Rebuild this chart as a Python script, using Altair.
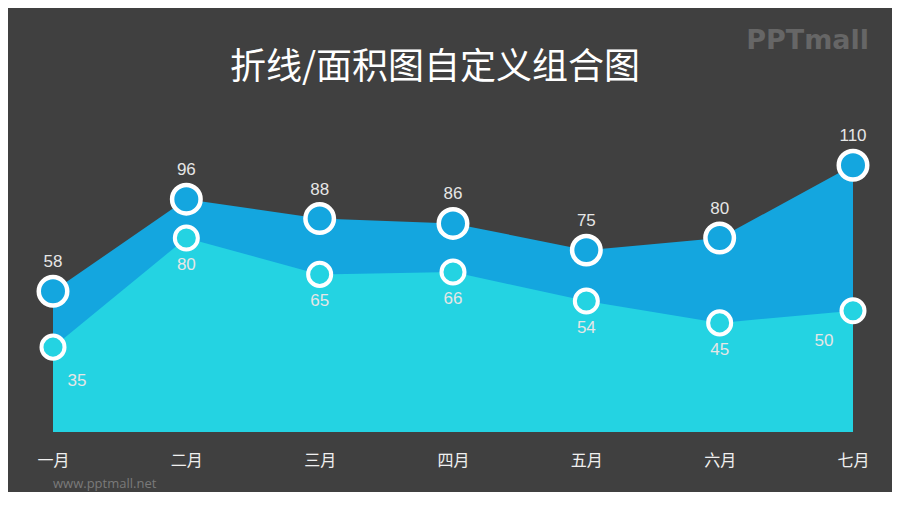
import pandas as pd
import altair as alt

# values
months = ["一月", "二月", "三月", "四月", "五月", "六月", "七月"]
upper = [58, 96, 88, 86, 75, 80, 110]
lower = [35, 80, 65, 66, 54, 45, 50]

df = pd.DataFrame({"month": months, "upper": upper, "lower": lower, "idx": range(len(months))})

BG = "#404040"
BLUE = "#14a6df"
CYAN = "#24d3e2"
NUM_FONT = "Liberation Sans"
CJK_FONT = "Noto Sans CJK SC"

x = alt.X("month:N", sort=months, title=None,
          scale=alt.Scale(type="point", padding=0),
          axis=alt.Axis(domain=False, ticks=False, tickSize=0, labelAngle=0,
                        labelPadding=20, labelFontSize=16, labelColor="#f0f0f0",
                        labelFont=CJK_FONT))
yscale = alt.Scale(domain=[0, 120], nice=False, zero=True)

base = alt.Chart(df).encode(x=x)

# two areas, blue behind and cyan in front
area_up = base.mark_area(color=BLUE, opacity=1).encode(
    y=alt.Y("upper:Q", scale=yscale, axis=None))
area_low = base.mark_area(color=CYAN, opacity=1).encode(
    y=alt.Y("lower:Q", scale=yscale, axis=None))

pts_up = base.mark_point(shape="circle", filled=False, fill=BLUE, fillOpacity=1,
                         stroke="white", strokeWidth=4.5, size=812, opacity=1).encode(
    y=alt.Y("upper:Q", scale=yscale))
pts_low = base.mark_point(shape="circle", filled=False, fill=CYAN, fillOpacity=1,
                          stroke="white", strokeWidth=4, size=530, opacity=1).encode(
    y=alt.Y("lower:Q", scale=yscale))

lab_style = dict(font=NUM_FONT, fontSize=17, color="#e6e6e6")

lab_up = base.mark_text(dy=-29, **lab_style).encode(
    y=alt.Y("upper:Q", scale=yscale), text="upper:Q")
lab_low = base.transform_filter("datum.idx > 0 && datum.idx < 6").mark_text(dy=27, **lab_style).encode(
    y=alt.Y("lower:Q", scale=yscale), text="lower:Q")
lab_first = base.transform_filter("datum.idx == 0").mark_text(dx=24, dy=34, **lab_style).encode(
    y=alt.Y("lower:Q", scale=yscale), text="lower:Q")
lab_last = base.transform_filter("datum.idx == 6").mark_text(dx=-29, dy=30, **lab_style).encode(
    y=alt.Y("lower:Q", scale=yscale), text="lower:Q")

# watermark texts
logo = alt.Chart(pd.DataFrame({"t": ["PPTmall"]})).mark_text(
    font="DejaVu Sans", fontSize=27, fontWeight="bold", color="#666666", align="right"
).encode(x=alt.value(816), y=alt.value(-100), text="t:N")
site = alt.Chart(pd.DataFrame({"t": ["www.pptmall.net"]})).mark_text(
    font="Open Sans", fontSize=13, color="#7a7a7a", align="left"
).encode(x=alt.value(0), y=alt.value(343), text="t:N")

chart = alt.layer(
    area_up, area_low, pts_up, pts_low, lab_up, lab_low, lab_first, lab_last, logo, site
).properties(
    width=800, height=291,
    title=alt.TitleParams("折线/面积图自定义组合图", font=CJK_FONT, fontSize=36,
                          fontWeight="normal", color="white", anchor="middle",
                          dx=-18, dy=64),
    autosize=alt.AutoSizeParams(type="none"),
    padding={"left": 45, "top": 133, "right": 39, "bottom": 60},
    background=BG,
).configure_view(stroke=None)

chart.save("out.html", embed_options={"renderer": "svg", "actions": False})
